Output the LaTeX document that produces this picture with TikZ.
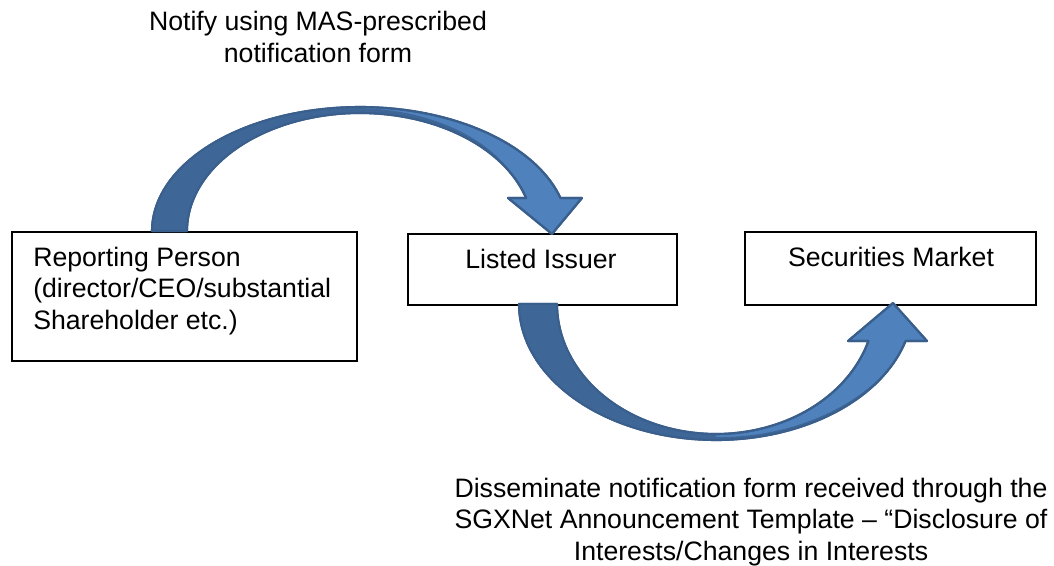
\documentclass[tikz,border=0pt]{standalone}
\usepackage{fontspec}
\setmainfont{Liberation Sans}
\definecolor{arrowfill}{HTML}{4F81BD}
\definecolor{arrowshade}{HTML}{3E6797}
\definecolor{arrowline}{HTML}{3A5F8C}
\begin{document}
\begin{tikzpicture}[x=0.75pt,y=-0.75pt,
  box/.style={draw=black, line width=1.3pt, inner sep=0pt, anchor=north west},
  lbl/.style={font=\fontsize{20}{23.3}\selectfont, inner sep=0pt},
  blockarrow/.style={draw=arrowline, line width=1.6pt, line join=round, fill=arrowfill},
  shade/.style={fill=arrowshade}]
\useasboundingbox (0,0) rectangle (1054,565);

% boxes
\node[box, minimum width=258.75pt, minimum height=96.75pt] (rp) at (11,231) {};
\node[box, minimum width=201.75pt, minimum height=53.25pt] (li) at (407,233) {};
\node[box, minimum width=218.25pt, minimum height=54.75pt] (sm) at (744,231) {};

% box texts (base anchor of a multi-line node = last line)
\node[lbl, anchor=base west, align=left] (rpt) at (33,329)
  {Reporting Person\\(director/CEO/substantial\\Shareholder etc.)};
\node[lbl, anchor=base] (lit) at (541,268) {Listed Issuer};
\node[lbl, anchor=base] (smt) at (891,266) {Securities Market};

% curved arrow: reporting person -> listed issuer
\path[blockarrow]
  plot[domain=180:344.57,samples=80] ({360+208*cos(\x)},{231+124*sin(\x)})
  -- (582,198) -- (552,234) -- (508,198)
  -- plot[domain=343.76:180,samples=80] ({360+173*cos(\x)},{231+118*sin(\x)})
  -- cycle;
\fill[shade]
  plot[domain=180:270,samples=50] ({360+208*cos(\x)},{231+124*sin(\x)})
  -- plot[domain=270:335,samples=40] ({360+(173+12*(335-\x)/65)*cos(\x)},{231+(118+5*(335-\x)/65)*sin(\x)})
  -- plot[domain=335:180,samples=60] ({360+173*cos(\x)},{231+118*sin(\x)})
  -- cycle;
\path[blockarrow, fill=none]
  plot[domain=180:344.57,samples=80] ({360+208*cos(\x)},{231+124*sin(\x)})
  -- (582,198) -- (552,234) -- (508,198)
  -- plot[domain=343.76:180,samples=80] ({360+173*cos(\x)},{231+118*sin(\x)})
  -- cycle;

% curved arrow: listed issuer -> securities market
\path[blockarrow]
  plot[domain=180:15.79,samples=80] ({716+197*cos(\x)},{304+136*sin(\x)})
  -- (927,341) -- (893,303) -- (848,341)
  -- plot[domain=16.54:180,samples=80] ({716+159*cos(\x)},{304+130*sin(\x)})
  -- cycle;
\fill[shade]
  plot[domain=180:90,samples=50] ({716+159*cos(\x)},{304+130*sin(\x)})
  -- plot[domain=90:25,samples=40] ({716+(197-12*(\x-25)/65)*cos(\x)},{304+(136-3*(\x-25)/65)*sin(\x)})
  -- plot[domain=25:180,samples=60] ({716+197*cos(\x)},{304+136*sin(\x)})
  -- cycle;
\path[blockarrow, fill=none]
  plot[domain=180:15.79,samples=80] ({716+197*cos(\x)},{304+136*sin(\x)})
  -- (927,341) -- (893,303) -- (848,341)
  -- plot[domain=16.54:180,samples=80] ({716+159*cos(\x)},{304+130*sin(\x)})
  -- cycle;

% arrow captions
\node[lbl, anchor=base, align=center] (top) at (318,62)
  {Notify using MAS-prescribed\\notification form};
\node[lbl, anchor=base, align=center] (bot) at (751,560)
  {Disseminate notification form received through the\\SGXNet Announcement Template – “Disclosure of\\Interests/Changes in Interests};
\end{tikzpicture}
\end{document}
